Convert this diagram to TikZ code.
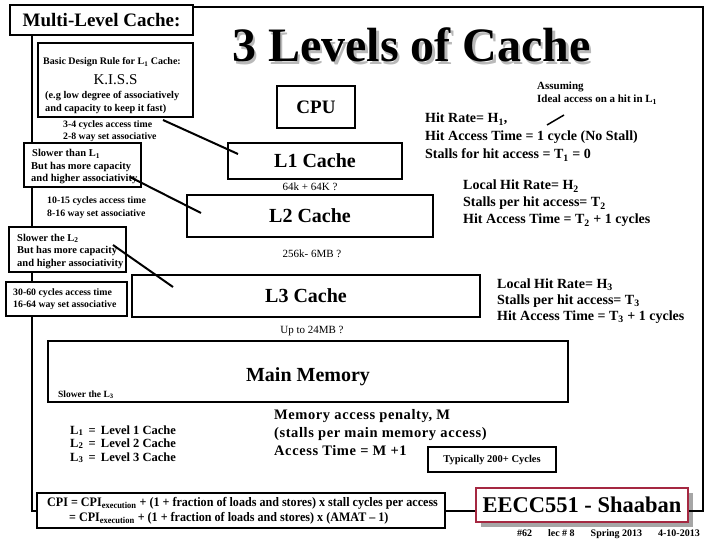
\documentclass[tikz,border=0pt]{standalone}
\usepackage{fontspec}
\setmainfont{Liberation Serif}
\newfontfamily\condserif[FakeStretch=0.93]{Liberation Serif}
\definecolor{eeccred}{RGB}{165,40,65}
\newcommand\fsz[1]{\fontsize{#1}{#1}\selectfont}
\begin{document}
\begin{tikzpicture}[x=1pt,y=-1pt,
  frame/.style={line width=2.6pt},
  box/.style={draw, line width=2pt, fill=white, inner sep=0pt},
  conn/.style={line width=2pt},
  lt/.style={inner sep=0pt, anchor=base west, font=\bfseries},
  ct/.style={inner sep=0pt, anchor=base, font=\bfseries},
]
\useasboundingbox (0,0) rectangle (720,540);
\fill[white] (0,0) rectangle (720,540);

% ---------- frame ----------
\coordinate (tr) at (703,7);
\coordinate (br) at (703,511);
\coordinate (bl) at (32,511);
\node[box, minimum width=183pt, minimum height=30pt, font=\bfseries\fsz{19}] (ml) at (101.5,20) {Multi-Level Cache:};
\node[box, minimum width=408pt, minimum height=35pt] (cpi) at (241,510.5) {};
\fill[gray!70] (481,493) rectangle (693,527);
\node[box, draw=eeccred, minimum width=212pt, minimum height=34pt, font=\bfseries\fsz{22.5}] (eecc) at (582,505) {EECC551 - Shaaban};
\draw[frame] (ml.east |- tr) -- (tr) -- (br) -- (eecc.east |- br);
\draw[frame] (ml.south -| bl) -- (bl) -- (cpi.west |- bl);
\draw[frame] (cpi.east |- bl) -- (eecc.west |- bl);

% ---------- title ----------
\node[lt, font=\bfseries\fsz{48}, text=gray!55] (titsh) at (234.5,64.5) {3 Levels of Cache};
\node[lt, font=\bfseries\fsz{48}] (title) at (232,62) {3 Levels of Cache};

% ---------- left column ----------
\node[box, minimum width=155pt, minimum height=74pt] (kiss) at (115.5,80) {};
\node[ct, font=\bfseries\fsz{10}] (kiss1) at (112,65) {Basic Design Rule for L\textsubscript{1} Cache:};
\node[ct, font=\fsz{15}] (kiss2) at (115.5,85) {K.I.S.S};
\node[lt, font=\bfseries\fsz{10.3}] (kiss3) at (45,99) {(e.g low degree of associatively};
\node[lt, font=\bfseries\fsz{10.3}] (kiss4) at (45,112) {and capacity to keep it fast)};
\node[lt, font=\bfseries\fsz{9.8}] (c1a) at (63,128) {3-4 cycles access time};
\node[lt, font=\bfseries\fsz{9.8}] (c1b) at (63,140) {2-8 way set associative};

\node[box, minimum width=117pt, minimum height=44pt] (sl1) at (82.5,165) {};
\node[lt, font=\bfseries\fsz{10.5}] (sl1a) at (32,157) {Slower than L\textsubscript{1}};
\node[lt, font=\bfseries\fsz{10.5}] (sl1b) at (31,170) {But has more capacity};
\node[lt, font=\bfseries\fsz{10.5}] (sl1c) at (31,182) {and higher associativity};
\node[lt, font=\bfseries\fsz{9.8}] (c2a) at (47,204) {10-15 cycles access time};
\node[lt, font=\bfseries\fsz{9.8}] (c2b) at (47,216) {8-16 way set associative};

\node[box, minimum width=117pt, minimum height=45pt] (sl2) at (67.5,249.5) {};
\node[lt, font=\bfseries\fsz{10.5}] (sl2a) at (17,241) {Slower the L\textsubscript{2}};
\node[lt, font=\bfseries\fsz{10.5}] (sl2b) at (17,254) {But has more capacity};
\node[lt, font=\bfseries\fsz{10.5}] (sl2c) at (17,266) {and higher associativity};

\node[box, minimum width=121pt, minimum height=34pt] (c3) at (66.5,299) {};
\node[lt, font=\bfseries\fsz{9.8}] (c3a) at (13,295) {30-60 cycles access time};
\node[lt, font=\bfseries\fsz{9.8}] (c3b) at (13,307) {16-64 way set associative};

% ---------- hierarchy ----------
\node[box, minimum width=78pt, minimum height=42pt, font=\bfseries\fsz{19}] (cpu) at (316,107) {CPU};
\node[box, minimum width=174pt, minimum height=36pt, font=\bfseries\fsz{20}] (l1) at (315,161) {L1 Cache};
\node[ct, font=\fsz{11}] (l1s) at (310,191) {64k + 64K ?};
\node[box, minimum width=246pt, minimum height=42pt, font=\bfseries\fsz{20}] (l2) at (310,216) {L2 Cache};
\node[ct, font=\fsz{11}] (l2s) at (312,257) {256k- 6MB ?};
\node[box, minimum width=348pt, minimum height=42pt, font=\bfseries\fsz{20}] (l3) at (306,296) {L3 Cache};
\node[ct, font=\fsz{11}] (l3s) at (312,333) {Up to  24MB ?};
\node[box, minimum width=520pt, minimum height=61pt] (mm) at (308,371.5) {};
\node[ct, font=\bfseries\fsz{20}] (mmt) at (308,381) {Main Memory};
\node[lt, font=\bfseries\fsz{9.5}] (sl3) at (58,397) {Slower the L\textsubscript{3}};

% ---------- legends ----------
\node[lt, font=\bfseries\fsz{12.5}] (lg1) at (70,434) {L\textsubscript{1}\, =\, Level 1 Cache};
\node[lt, font=\bfseries\fsz{12.5}] (lg2) at (70,447) {L\textsubscript{2}\, =\, Level 2 Cache};
\node[lt, font=\bfseries\fsz{12.5}] (lg3) at (70,461) {L\textsubscript{3}\, =\, Level 3 Cache};

\node[lt, font=\bfseries\fsz{14.5}\addfontfeature{LetterSpace=4}] (mp1) at (274,419) {Memory access penalty, M};
\node[lt, font=\bfseries\fsz{14.5}\addfontfeature{LetterSpace=4}] (mp2) at (274,437) {(stalls per main memory access)};
\node[lt, font=\bfseries\fsz{14.5}\addfontfeature{LetterSpace=4}] (mp3) at (274,455) {Access Time = M +1};
\node[box, minimum width=128pt, minimum height=25pt, font=\bfseries\fsz{10.5}] (typ) at (492,459.5) {Typically 200+ Cycles};

% ---------- right column ----------
\node[lt, font=\bfseries\fsz{11}] (as1) at (537,90) {Assuming};
\node[lt, font=\bfseries\fsz{11}] (as2) at (537,103) {Ideal access on a hit in L\textsubscript{1}};
\node[lt, font=\bfseries\fsz{14}] (h1a) at (425,123) {Hit Rate= H\textsubscript{1},};
\node[lt, font=\bfseries\fsz{14}] (h1b) at (425,141) {Hit Access Time = 1 cycle (No Stall)};
\node[lt, font=\bfseries\fsz{14}] (h1c) at (425,159) {Stalls for hit access = T\textsubscript{1} = 0};
\node[lt, font=\bfseries\fsz{14}] (h2a) at (463,190) {Local Hit Rate= H\textsubscript{2}};
\node[lt, font=\bfseries\fsz{14}] (h2b) at (463,207) {Stalls per hit access= T\textsubscript{2}};
\node[lt, font=\bfseries\fsz{14}] (h2c) at (463,224) {Hit Access Time = T\textsubscript{2} + 1 cycles};
\node[lt, font=\bfseries\fsz{14}] (h3a) at (497,288) {Local Hit Rate= H\textsubscript{3}};
\node[lt, font=\bfseries\fsz{14}] (h3b) at (497,304) {Stalls per hit access= T\textsubscript{3}};
\node[lt, font=\bfseries\fsz{14}] (h3c) at (497,320) {Hit Access Time = T\textsubscript{3} + 1 cycles};

% ---------- bottom ----------
\node[lt, font=\condserif\bfseries\fsz{13}] (cpi1) at (47,506) {CPI = CPI\textsubscript{execution} + (1 + fraction of loads and stores) x stall cycles per access};
\node[lt, font=\condserif\bfseries\fsz{13}] (cpi2) at (69,521) {= CPI\textsubscript{execution} + (1 + fraction of loads and stores) x (AMAT – 1)};
\node[anchor=base east, inner sep=0pt, font=\bfseries\fsz{10}] (foot) at (700,536) {\#62\hspace{16pt}lec \# 8\hspace{16pt}Spring 2013\hspace{16pt}4-10-2013};

% ---------- connectors ----------
\coordinate (k1) at (163,120);  \coordinate (k1e) at (238,154);
\coordinate (k2) at (130,177);  \coordinate (k2e) at (201,213);
\coordinate (k3) at (113,245);  \coordinate (k3e) at (173,287);
\coordinate (k4) at (547,125);  \coordinate (k4e) at (564,115);
\draw[conn] (k1) -- (k1e);
\draw[conn] (k2) -- (k2e);
\draw[conn] (k3) -- (k3e);
\draw[line width=1.5pt] (k4) -- (k4e);
\end{tikzpicture}
\end{document}
